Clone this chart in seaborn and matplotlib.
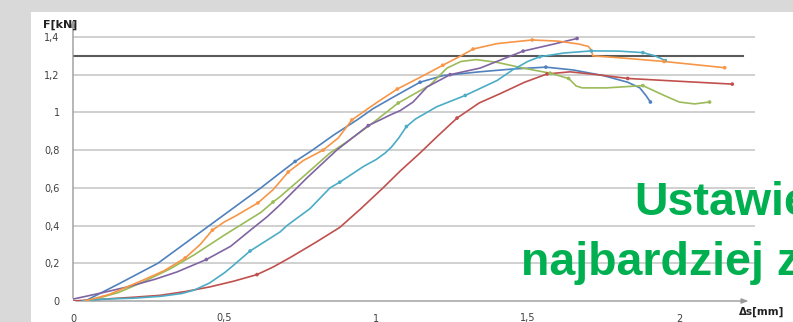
import numpy as np
import pandas as pd
import matplotlib
matplotlib.use("Agg")
import matplotlib.pyplot as plt
from matplotlib.patches import Rectangle
import seaborn as sns

# Force F [kN] against displacement ds [mm] for six specimens
blue_s = [0.04, 0.15, 0.28, 0.45, 0.62, 0.68, 0.733, 0.79, 0.86, 0.937, 0.99, 1.05, 1.10, 1.145,
          1.22, 1.34, 1.45, 1.56, 1.65, 1.75, 1.83, 1.87, 1.89, 1.905]
blue_f = [0.0, 0.09, 0.2, 0.4, 0.6, 0.675, 0.74, 0.80, 0.88, 0.96, 1.02, 1.075, 1.12, 1.16,
          1.195, 1.215, 1.23, 1.24, 1.225, 1.195, 1.16, 1.13, 1.09, 1.055]

red_s = [0.0, 0.1, 0.2, 0.287, 0.37, 0.452, 0.53, 0.607, 0.66, 0.716, 0.80, 0.88, 0.95, 1.023,
         1.08, 1.145, 1.20, 1.267, 1.34, 1.41, 1.49, 1.564, 1.64, 1.73, 1.83, 2.0, 2.175]
red_f = [0.0, 0.01, 0.02, 0.03, 0.05, 0.075, 0.105, 0.14, 0.18, 0.23, 0.31, 0.39, 0.49, 0.6,
         0.69, 0.785, 0.87, 0.97, 1.05, 1.1, 1.16, 1.204, 1.215, 1.2, 1.18, 1.165, 1.15]

green_s = [0.05, 0.15, 0.23, 0.32, 0.40, 0.50, 0.62, 0.66, 0.683, 0.76, 0.848, 0.90, 0.98,
           1.073, 1.178, 1.234, 1.28, 1.33, 1.40, 1.485, 1.574, 1.635, 1.66, 1.68, 1.76, 1.88,
           1.95, 2.0, 2.05, 2.10]
green_f = [0.0, 0.045, 0.1, 0.17, 0.245, 0.35, 0.47, 0.525, 0.553, 0.66, 0.785, 0.84, 0.933,
           1.05, 1.145, 1.235, 1.27, 1.28, 1.265, 1.235, 1.208, 1.18, 1.14, 1.13, 1.13, 1.142,
           1.09, 1.055, 1.045, 1.055]

purple_s = [0.0, 0.1, 0.18, 0.27, 0.343, 0.44, 0.52, 0.594, 0.64, 0.683, 0.77, 0.87, 0.93,
            0.974, 1.013, 1.046, 1.08, 1.122, 1.168, 1.244, 1.343, 1.485, 1.58, 1.663]
purple_f = [0.01, 0.045, 0.075, 0.115, 0.154, 0.22, 0.29, 0.387, 0.446, 0.51, 0.65, 0.80, 0.875,
            0.93, 0.96, 0.986, 1.01, 1.055, 1.135, 1.2, 1.235, 1.325, 1.36, 1.392]

aqua_s = [0.03, 0.1, 0.2, 0.29, 0.36, 0.40, 0.45, 0.50, 0.53, 0.584, 0.683, 0.706, 0.782, 0.848,
          0.88, 0.96, 1.0, 1.03, 1.05, 1.075, 1.10, 1.13, 1.20, 1.294, 1.40, 1.45, 1.50, 1.54,
          1.62, 1.71, 1.80, 1.88, 1.92, 1.954]
aqua_f = [0.0, 0.01, 0.015, 0.025, 0.04, 0.058, 0.095, 0.15, 0.19, 0.265, 0.366, 0.40, 0.49, 0.60,
          0.63, 0.715, 0.75, 0.785, 0.815, 0.865, 0.925, 0.965, 1.03, 1.09, 1.17, 1.225, 1.27, 1.295,
          1.315, 1.326, 1.325, 1.317, 1.30, 1.275]

orange_s = [0.04, 0.12, 0.23, 0.30, 0.37, 0.42, 0.46, 0.50, 0.53, 0.61, 0.66, 0.71, 0.76, 0.825,
            0.875, 0.92, 1.0, 1.07, 1.15, 1.22, 1.28, 1.32, 1.40, 1.515, 1.60, 1.67, 1.70, 1.71,
            1.715, 1.80, 1.95, 2.15]
orange_f = [0.0, 0.035, 0.11, 0.16, 0.228, 0.30, 0.376, 0.42, 0.445, 0.52, 0.59, 0.684, 0.745, 0.80,
            0.864, 0.96, 1.05, 1.124, 1.19, 1.25, 1.30, 1.336, 1.365, 1.384, 1.378, 1.362, 1.35, 1.33,
            1.30, 1.29, 1.27, 1.237]

limit_force = 1.3

y_ticks = [0, 0.2, 0.4, 0.6, 0.8, 1.0, 1.2, 1.4]
y_tick_labels = ["0", "0,2", "0,4", "0,6", "0,8", "1", "1,2", "1,4"]
x_ticks = [0, 0.5, 1, 1.5, 2]
x_tick_labels = ["0", "0,5", "1", "1,5", "2"]

series = {
    "blue": (blue_s, blue_f),
    "red": (red_s, red_f),
    "green": (green_s, green_f),
    "purple": (purple_s, purple_f),
    "aqua": (aqua_s, aqua_f),
    "orange": (orange_s, orange_f),
}
colors = {"blue": "#4F81BD", "red": "#C0504D", "green": "#9BBB59",
          "purple": "#8064A2", "aqua": "#4BACC6", "orange": "#F79646"}
# indices of the samples shown with a dot
dots = {
    "blue": [6, 13, 17, 23],
    "red": [7, 17, 21, 24, 26],
    "green": [7, 13, 20, 21, 25, 29],
    "purple": [5, 13, 19, 21, 23],
    "aqua": [9, 14, 20, 23, 27, 29, 31, 33],
    "orange": [4, 6, 9, 11, 13, 15, 17, 19, 21, 23, 30, 31],
}

rows = []
for name, (s, f) in series.items():
    for i, (si, fi) in enumerate(zip(s, f)):
        rows.append({"series": name, "s": si, "f": fi, "dot": i in dots[name]})
df = pd.DataFrame(rows)

W, H = 793, 322
fig = plt.figure(figsize=(W / 100, H / 100), dpi=100, facecolor="#d9d9d9")
fig.add_artist(Rectangle((31 / W, 0), 1 - 31 / W, (H - 12) / H, transform=fig.transFigure,
                         facecolor="white", edgecolor="none", zorder=0))

ax = fig.add_axes([73 / W, (H - 301) / H, (755 - 73) / W, (301 - 16) / H])
ax.set_facecolor("none")
ax.set_xlim(0, 2.25)
ax.set_ylim(0, (301 - 16) / 188.6)

for yv in y_ticks[1:]:
    ax.axhline(yv, color="#c4c4c4", lw=1.1, zorder=1)
ax.plot([0, 2.21], [limit_force, limit_force], color="#5a5a5a", lw=1.5, zorder=2)

sns.lineplot(data=df, x="s", y="f", hue="series", palette=colors, sort=False,
             estimator=None, linewidth=1.2, legend=False, ax=ax, zorder=3)
sns.scatterplot(data=df[df["dot"]], x="s", y="f", hue="series", palette=colors, s=7,
                edgecolor="none", legend=False, ax=ax, zorder=4)

for sp in ax.spines.values():
    sp.set_visible(False)
ax.annotate("", xy=(2.238, 0), xytext=(0, 0), xycoords="data",
            arrowprops=dict(arrowstyle="-|>,head_length=0.4,head_width=0.15", color="#9a9a9a", lw=1),
            annotation_clip=False, zorder=2)
ax.annotate("", xy=(0, (301 - 17) / 188.6), xytext=(0, 0), xycoords="data",
            arrowprops=dict(arrowstyle="-|>,head_length=0.4,head_width=0.15", color="#9a9a9a", lw=1),
            annotation_clip=False, zorder=2)

ax.set_yticks(y_ticks)
ax.set_yticklabels(y_tick_labels)
ax.set_xticks(x_ticks)
ax.set_xticklabels(x_tick_labels)
ax.tick_params(length=0, labelsize=7, colors="#404040")
ax.tick_params(axis="y", pad=9.5)
ax.tick_params(axis="x", pad=9)
ax.set_xlabel("")
ax.set_ylabel("")

fig.text(77 / W, (H - 25) / H, "F[kN]", ha="right", va="center", fontsize=8,
         fontweight="bold", color="#222222")
fig.text(762 / W, (H - 312) / H, "\u0394s[mm]", ha="center", va="center", fontsize=7.5,
         fontweight="bold", color="#222222")

fig.text(634 / W, (H - 215) / H, "Ustawienie", ha="left", va="baseline", fontsize=33.5,
         fontweight="bold", family="Liberation Sans", color="#00B050", zorder=5)
fig.text(521 / W, (H - 275) / H, "najbardziej zbli\u017cone", ha="left", va="baseline",
         fontsize=33.5, fontweight="bold", family="Liberation Sans", color="#00B050", zorder=5)

fig.savefig("out.png", dpi=100, facecolor=fig.get_facecolor())
